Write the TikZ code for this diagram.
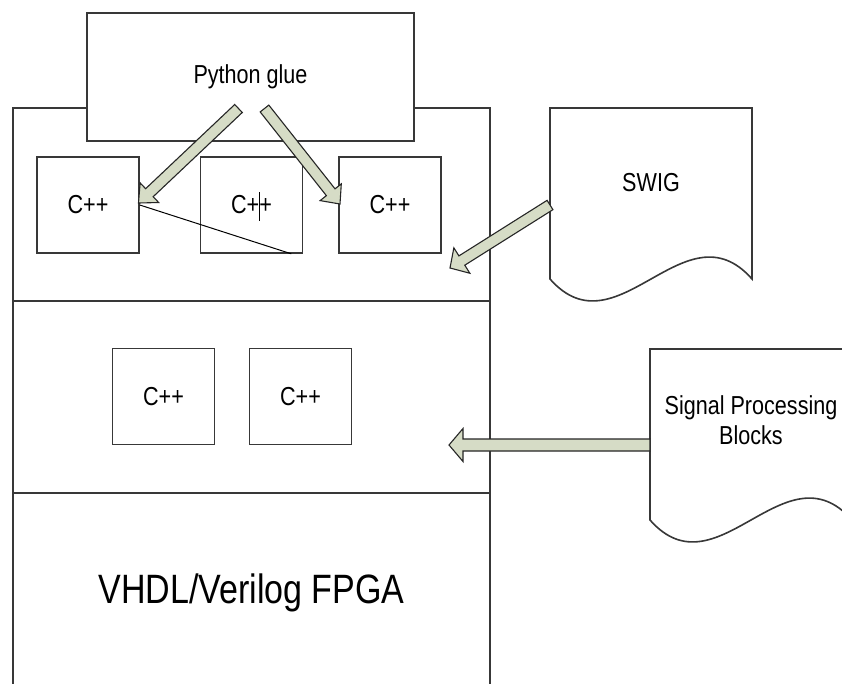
\documentclass[tikz,border=0pt]{standalone}
\usepackage{fontspec}
\setmainfont{Liberation Sans}[FakeStretch=0.83]
\usetikzlibrary{calc}
\definecolor{edge}{HTML}{383838}
\definecolor{arrowfill}{RGB}{214,220,198}

% Block arrow: #1 tail, #2 tip, #3 shaft half width, #4 head half width, #5 head length
\newcommand\blockarrow[5]{%
  \path ($(#2)!#5!(#1)$) coordinate (ba-h);
  \draw[fatarrow] ($(#1)!#3!90:(#2)$) -- ($(ba-h)!#3!-90:(#1)$)
    -- ($(ba-h)!#4!-90:(#1)$) -- (#2) -- ($(ba-h)!#4!90:(#1)$)
    -- ($(ba-h)!#3!90:(#1)$) -- ($(#1)!#3!-90:(#2)$) -- cycle;}

\begin{document}
\begin{tikzpicture}[x=1pt,y=-1pt,
  outline/.style={draw=edge, line width=1.6pt},
  box/.style={outline, fill=white, inner sep=0pt,
    font=\fontsize{26}{30}\selectfont},
  cppbox/.style={box, minimum width=102pt, minimum height=96pt},
  doc/.style={outline, fill=white},
  label/.style={inner sep=0pt, font=\fontsize{26}{30}\selectfont},
  fatarrow/.style={draw=black!85, line width=1.1pt, fill=arrowfill, line join=miter},
  thin/.style={draw=black, line width=1pt}]
\useasboundingbox (0,0) rectangle (842,683);
\clip (0,0) rectangle (842,683);
\fill[white] (0,0) rectangle (842,683);

% layered stack
\draw[outline] (13,700) -- (13,108) -- (490,108) -- (490,700);
\draw[outline] (13,301) -- (490,301);
\draw[outline] (13,493) -- (490,493);
\node[label, anchor=base] (fpga) at (251.5,603) {\fontsize{41}{45}\selectfont VHDL/Verilog FPGA};

% C++ wrappers
\node[cppbox] (cppa) at (88,205) {C++};
\node[cppbox] (cppb) at (251.5,205) {C++};
\node[cppbox] (cppc) at (390,205) {C++};
\draw[thin] (cppa.east) -- ($(cppb.south east)+(-12,0)$);
\draw[thin] (259,192) -- (259,221);

% C++ blocks
\node[cppbox] (cppd) at (163.5,396.5) {C++};
\node[cppbox] (cppe) at (300.5,396.5) {C++};

% Python glue
\node[box, minimum width=327pt, minimum height=128pt] (py) at (250.5,77) {Python glue};

% SWIG document
\draw[doc] (550,279) -- (550,108) -- (752,108) -- (752,279)
  .. controls (685,203) and (617,355) .. (550,279) -- cycle;
\node[label, anchor=base] (swig) at (651,191) {SWIG};

% Signal processing document
\draw[doc] (650,520) -- (650,349) -- (852,349) -- (852,520)
  .. controls (785,444) and (717,596) .. (650,520) -- cycle;
\node[label, align=center] (spb) at (751,420.5) {Signal Processing\\Blocks};

% connectors
\coordinate (pyl) at (238.5,108.5);
\coordinate (pyr) at (264.5,108.5);
\coordinate (cppa-in) at (138.5,203);
\coordinate (cppc-in) at (340,204);
\coordinate (swig-out) at (550,205);
\coordinate (top-in) at (450,268);
\coordinate (spb-out) at (650,445);
\coordinate (mid-in) at (449,445);
\blockarrow{pyl}{cppa-in}{5.5pt}{13.5pt}{15pt}
\blockarrow{pyr}{cppc-in}{5.5pt}{13.5pt}{15pt}
\blockarrow{swig-out}{top-in}{5.5pt}{15pt}{14pt}
\blockarrow{spb-out}{mid-in}{6pt}{16.5pt}{14pt}
\end{tikzpicture}
\end{document}
